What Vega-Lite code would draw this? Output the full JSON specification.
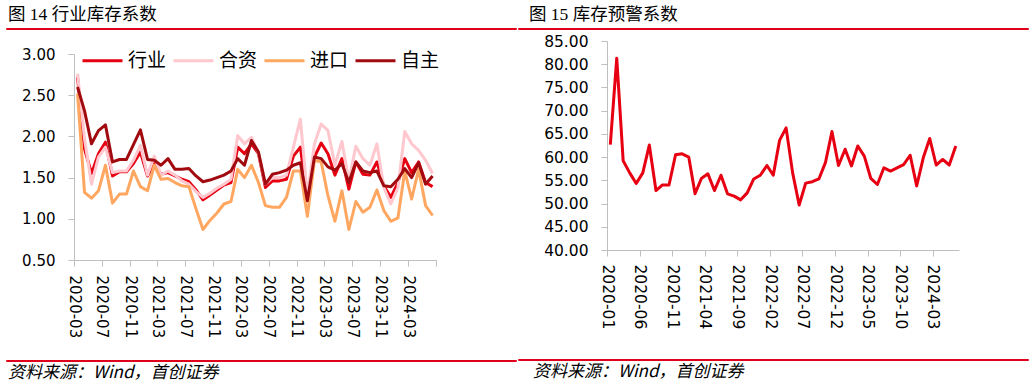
{
  "$schema": "https://vega.github.io/schema/vega-lite/v6.json",
  "padding": {"left": 5, "top": 5, "right": 5, "bottom": 0},
  "config": {
    "view": {"stroke": null},
    "axis": {"domainColor": "#BFBFBF", "tickColor": "#BFBFBF", "grid": false, "labelColor": "#000000", "labelFont": "DejaVu Sans", "tickSize": 6, "domainWidth": 1, "tickWidth": 1},
    "title": {"color": "#000000", "fontWeight": "normal"}
  },
  "spacing": 0,
  "hconcat": [
    {
      "spacing": 17,
      "vconcat": [
        {
          "width": 510, "height": 1,
          "view": {"stroke": "#E0001B", "strokeWidth": 1},
          "title": {"text": "图 14 行业库存系数", "anchor": "start", "offset": 5, "dx": 2, "fontSize": 17.5, "font": "Liberation Serif, Noto Sans CJK SC"},
          "data": {"values": []},
          "mark": "point"
        },
        {
          "spacing": 21,
          "vconcat": [
            {
              "spacing": 0,
              "hconcat": [
                {"width": 15, "height": 10, "data": {"values": []}, "mark": "point"},
                {
                  "width": 362, "height": 206,
                  "data": {"values": [
                    {"m": "2020-03", "行业": 2.72, "合资": 2.76, "进口": 2.52, "自主": 2.60},
                    {"m": "2020-04", "行业": 1.85, "合资": 1.97, "进口": 1.32, "自主": 2.31},
                    {"m": "2020-05", "行业": 1.55, "合资": 1.42, "进口": 1.25, "自主": 1.91},
                    {"m": "2020-06", "行业": 1.79, "合资": 1.75, "进口": 1.34, "自主": 2.07},
                    {"m": "2020-07", "行业": 1.93, "合资": 1.87, "进口": 1.65, "自主": 2.14},
                    {"m": "2020-08", "行业": 1.52, "合资": 1.56, "进口": 1.19, "自主": 1.69},
                    {"m": "2020-09", "行业": 1.57, "合资": 1.58, "进口": 1.30, "自主": 1.72},
                    {"m": "2020-10", "行业": 1.57, "合资": 1.58, "进口": 1.30, "自主": 1.72},
                    {"m": "2020-11", "行业": 1.67, "合资": 1.71, "进口": 1.58, "自主": 1.90},
                    {"m": "2020-12", "行业": 1.81, "合资": 1.89, "进口": 1.39, "自主": 2.08},
                    {"m": "2021-01", "行业": 1.52, "合资": 1.53, "进口": 1.34, "自主": 1.72},
                    {"m": "2021-02", "行业": 1.67, "合资": 1.76, "进口": 1.65, "自主": 1.71},
                    {"m": "2021-03", "行业": 1.54, "合资": 1.53, "进口": 1.48, "自主": 1.65},
                    {"m": "2021-04", "行业": 1.56, "合资": 1.58, "进口": 1.49, "自主": 1.73},
                    {"m": "2021-05", "行业": 1.52, "合资": 1.53, "进口": 1.44, "自主": 1.60},
                    {"m": "2021-06", "行业": 1.48, "合资": 1.46, "进口": 1.40, "自主": 1.60},
                    {"m": "2021-07", "行业": 1.45, "合资": 1.42, "进口": 1.39, "自主": 1.61},
                    {"m": "2021-08", "行业": 1.35, "合资": 1.33, "进口": 1.12, "自主": 1.52},
                    {"m": "2021-09", "行业": 1.23, "合资": 1.26, "进口": 0.87, "自主": 1.45},
                    {"m": "2021-10", "行业": 1.29, "合资": 1.31, "进口": 0.98, "自主": 1.47},
                    {"m": "2021-11", "行业": 1.35, "合资": 1.37, "进口": 1.07, "自主": 1.50},
                    {"m": "2021-12", "行业": 1.41, "合资": 1.42, "进口": 1.18, "自主": 1.53},
                    {"m": "2022-01", "行业": 1.44, "合资": 1.48, "进口": 1.21, "自主": 1.58},
                    {"m": "2022-02", "行业": 1.87, "合资": 2.01, "进口": 1.60, "自主": 1.73},
                    {"m": "2022-03", "行业": 1.79, "合资": 1.91, "进口": 1.50, "自主": 1.65},
                    {"m": "2022-04", "行业": 1.91, "合资": 1.99, "进口": 1.65, "自主": 1.95},
                    {"m": "2022-05", "行业": 1.79, "合资": 1.80, "进口": 1.44, "自主": 1.81},
                    {"m": "2022-06", "行业": 1.38, "合资": 1.42, "进口": 1.16, "自主": 1.42},
                    {"m": "2022-07", "行业": 1.46, "合资": 1.50, "进口": 1.14, "自主": 1.54},
                    {"m": "2022-08", "行业": 1.46, "合资": 1.50, "进口": 1.14, "自主": 1.56},
                    {"m": "2022-09", "行业": 1.48, "合资": 1.53, "进口": 1.26, "自主": 1.59},
                    {"m": "2022-10", "行业": 1.76, "合资": 1.87, "进口": 1.58, "自主": 1.65},
                    {"m": "2022-11", "行业": 1.87, "合资": 2.21, "进口": 1.58, "自主": 1.68},
                    {"m": "2022-12", "行业": 1.22, "合资": 1.28, "进口": 1.03, "自主": 1.22},
                    {"m": "2023-01", "行业": 1.75, "合资": 1.91, "进口": 1.71, "自主": 1.75},
                    {"m": "2023-02", "行业": 1.92, "合资": 2.15, "进口": 1.69, "自主": 1.73},
                    {"m": "2023-03", "行业": 1.79, "合资": 2.07, "进口": 1.28, "自主": 1.63},
                    {"m": "2023-04", "行业": 1.53, "合资": 1.65, "进口": 0.97, "自主": 1.59},
                    {"m": "2023-05", "行业": 1.73, "合资": 1.94, "进口": 1.34, "自主": 1.67},
                    {"m": "2023-06", "行业": 1.36, "合资": 1.46, "进口": 0.87, "自主": 1.44},
                    {"m": "2023-07", "行业": 1.69, "合资": 1.88, "进口": 1.21, "自主": 1.69},
                    {"m": "2023-08", "行业": 1.54, "合资": 1.73, "进口": 1.08, "自主": 1.58},
                    {"m": "2023-09", "行业": 1.53, "合资": 1.65, "进口": 1.14, "自主": 1.56},
                    {"m": "2023-10", "行业": 1.69, "合资": 1.91, "进口": 1.35, "自主": 1.58},
                    {"m": "2023-11", "行业": 1.40, "合资": 1.38, "进口": 1.10, "自主": 1.40},
                    {"m": "2023-12", "行业": 1.26, "合资": 1.18, "进口": 0.97, "自主": 1.39},
                    {"m": "2024-01", "行业": 1.44, "合资": 1.38, "进口": 1.01, "自主": 1.48},
                    {"m": "2024-02", "行业": 1.73, "合资": 2.06, "进口": 1.58, "自主": 1.61},
                    {"m": "2024-03", "行业": 1.56, "合资": 1.91, "进口": 1.24, "自主": 1.50},
                    {"m": "2024-04", "行业": 1.69, "合资": 1.83, "进口": 1.60, "自主": 1.68},
                    {"m": "2024-05", "行业": 1.44, "合资": 1.71, "进口": 1.16, "自主": 1.42},
                    {"m": "2024-06", "行业": 1.39, "合资": 1.55, "进口": 1.04, "自主": 1.52}
                  ]},
                  "transform": [{"fold": ["行业", "合资", "进口", "自主"], "as": ["series", "value"]}],
                  "mark": {"type": "line", "strokeWidth": 3, "strokeJoin": "round"},
                  "encoding": {
                    "x": {
                      "field": "m", "type": "temporal", "timeUnit": "utcyearmonth", "bandPosition": 0.5,
                      "scale": {"domain": [{"year": 2020, "month": 3, "date": 1, "utc": true}, {"year": 2024, "month": 7, "date": 1, "utc": true}]},
                      "axis": {
                        "title": null,
                        "values": [
                          {"year": 2020, "month": 3, "date": 1, "utc": true},
                          {"year": 2020, "month": 7, "date": 1, "utc": true},
                          {"year": 2020, "month": 11, "date": 1, "utc": true},
                          {"year": 2021, "month": 3, "date": 1, "utc": true},
                          {"year": 2021, "month": 7, "date": 1, "utc": true},
                          {"year": 2021, "month": 11, "date": 1, "utc": true},
                          {"year": 2022, "month": 3, "date": 1, "utc": true},
                          {"year": 2022, "month": 7, "date": 1, "utc": true},
                          {"year": 2022, "month": 11, "date": 1, "utc": true},
                          {"year": 2023, "month": 3, "date": 1, "utc": true},
                          {"year": 2023, "month": 7, "date": 1, "utc": true},
                          {"year": 2023, "month": 11, "date": 1, "utc": true},
                          {"year": 2024, "month": 3, "date": 1, "utc": true},
                          {"year": 2024, "month": 7, "date": 1, "utc": true}
                        ],
                        "labelExpr": "(utcyear(datum.value) == 2024 && utcmonth(datum.value) == 6) ? '' : utcFormat(datum.value, '%Y-%m')",
                        "labelAngle": 90, "labelAlign": "left", "labelBaseline": "middle",
                        "labelFontSize": 15, "labelPadding": 9, "labelFlush": false, "labelOverlap": false
                      }
                    },
                    "y": {
                      "field": "value", "type": "quantitative",
                      "scale": {"domain": [0.5, 3], "nice": false, "zero": false},
                      "axis": {"title": null, "values": [0.5, 1, 1.5, 2, 2.5, 3], "format": ".2f", "labelFontSize": 15, "labelPadding": 13}
                    },
                    "color": {
                      "field": "series", "type": "nominal",
                      "scale": {"domain": ["行业", "合资", "进口", "自主"], "range": ["#E60012", "#FFC7CE", "#FFA760", "#A10B10"]},
                      "legend": {"orient": "none", "legendX": 75, "legendY": 11, "direction": "horizontal", "title": null, "symbolType": "stroke", "symbolSize": 1600, "symbolStrokeWidth": 3, "labelFont": "Noto Sans CJK SC", "labelFontSize": 19, "labelColor": "#000000", "labelOffset": 4, "columnPadding": 0, "padding": 0}
                    }
                  }
                }
              ]
            },
            {
              "width": 510, "height": 1,
              "view": {"stroke": "#E0001B", "strokeWidth": 1},
              "title": {"text": "资料来源：Wind，首创证券", "orient": "bottom", "anchor": "start", "offset": 4, "dx": 2, "fontSize": 17, "fontStyle": "italic", "font": "Noto Sans CJK SC"},
              "data": {"values": []},
              "mark": "point"
            }
          ]
        }
      ]
    },
    {
      "spacing": 4,
      "vconcat": [
        {
          "width": 510, "height": 1,
          "view": {"stroke": "#E0001B", "strokeWidth": 1},
          "title": {"text": "图 15 库存预警系数", "anchor": "start", "offset": 5, "dx": 11, "fontSize": 17.5, "font": "Liberation Serif, Noto Sans CJK SC"},
          "data": {"values": []},
          "mark": "point"
        },
        {
          "spacing": 29,
          "vconcat": [
            {
              "spacing": 0,
              "hconcat": [
                {"width": 25, "height": 10, "data": {"values": []}, "mark": "point"},
                {
                  "width": 352, "height": 209,
                  "data": {"values": [
                    {"m": "2020-01", "v": 62.7}, {"m": "2020-02", "v": 81.3}, {"m": "2020-03", "v": 59.2}, {"m": "2020-04", "v": 56.6},
                    {"m": "2020-05", "v": 54.3}, {"m": "2020-06", "v": 56.6}, {"m": "2020-07", "v": 62.6}, {"m": "2020-08", "v": 52.8},
                    {"m": "2020-09", "v": 54.0}, {"m": "2020-10", "v": 54.0}, {"m": "2020-11", "v": 60.5}, {"m": "2020-12", "v": 60.7},
                    {"m": "2021-01", "v": 60.0}, {"m": "2021-02", "v": 52.1}, {"m": "2021-03", "v": 55.4}, {"m": "2021-04", "v": 56.4},
                    {"m": "2021-05", "v": 52.8}, {"m": "2021-06", "v": 56.1}, {"m": "2021-07", "v": 52.1}, {"m": "2021-08", "v": 51.6},
                    {"m": "2021-09", "v": 50.8}, {"m": "2021-10", "v": 52.3}, {"m": "2021-11", "v": 55.3}, {"m": "2021-12", "v": 56.1},
                    {"m": "2022-01", "v": 58.2}, {"m": "2022-02", "v": 56.1}, {"m": "2022-03", "v": 63.6}, {"m": "2022-04", "v": 66.3},
                    {"m": "2022-05", "v": 56.6}, {"m": "2022-06", "v": 49.7}, {"m": "2022-07", "v": 54.4}, {"m": "2022-08", "v": 54.7},
                    {"m": "2022-09", "v": 55.3}, {"m": "2022-10", "v": 58.8}, {"m": "2022-11", "v": 65.5}, {"m": "2022-12", "v": 58.2},
                    {"m": "2023-01", "v": 61.7}, {"m": "2023-02", "v": 58.1}, {"m": "2023-03", "v": 62.4}, {"m": "2023-04", "v": 60.2},
                    {"m": "2023-05", "v": 55.4}, {"m": "2023-06", "v": 54.1}, {"m": "2023-07", "v": 57.7}, {"m": "2023-08", "v": 57.0},
                    {"m": "2023-09", "v": 57.7}, {"m": "2023-10", "v": 58.4}, {"m": "2023-11", "v": 60.4}, {"m": "2023-12", "v": 53.8},
                    {"m": "2024-01", "v": 59.9}, {"m": "2024-02", "v": 64.0}, {"m": "2024-03", "v": 58.3}, {"m": "2024-04", "v": 59.5},
                    {"m": "2024-05", "v": 58.3}, {"m": "2024-06", "v": 62.4}
                  ]},
                  "mark": {"type": "line", "strokeWidth": 3, "strokeJoin": "round", "color": "#E60012"},
                  "encoding": {
                    "x": {
                      "field": "m", "type": "temporal", "timeUnit": "utcyearmonth", "bandPosition": 0.5,
                      "scale": {"domain": [{"year": 2020, "month": 1, "date": 1, "utc": true}, {"year": 2024, "month": 7, "date": 1, "utc": true}]},
                      "axis": {
                        "title": null,
                        "values": [
                          {"year": 2020, "month": 1, "date": 1, "utc": true},
                          {"year": 2020, "month": 6, "date": 1, "utc": true},
                          {"year": 2020, "month": 11, "date": 1, "utc": true},
                          {"year": 2021, "month": 4, "date": 1, "utc": true},
                          {"year": 2021, "month": 9, "date": 1, "utc": true},
                          {"year": 2022, "month": 2, "date": 1, "utc": true},
                          {"year": 2022, "month": 7, "date": 1, "utc": true},
                          {"year": 2022, "month": 12, "date": 1, "utc": true},
                          {"year": 2023, "month": 5, "date": 1, "utc": true},
                          {"year": 2023, "month": 10, "date": 1, "utc": true},
                          {"year": 2024, "month": 3, "date": 1, "utc": true}
                        ],
                        "labelExpr": "utcFormat(datum.value, '%Y-%m')",
                        "labelAngle": 90, "labelAlign": "left", "labelBaseline": "middle",
                        "labelFontSize": 15.5, "labelPadding": 8, "labelFlush": false, "labelOverlap": false
                      }
                    },
                    "y": {
                      "field": "v", "type": "quantitative",
                      "scale": {"domain": [40, 85], "nice": false, "zero": false},
                      "axis": {"title": null, "values": [40, 45, 50, 55, 60, 65, 70, 75, 80, 85], "format": ".2f", "labelFontSize": 15.5, "labelPadding": 13}
                    }
                  }
                }
              ]
            },
            {
              "width": 510, "height": 1,
              "view": {"stroke": "#E0001B", "strokeWidth": 1},
              "title": {"text": "资料来源：Wind，首创证券", "orient": "bottom", "anchor": "start", "offset": 4, "dx": 15, "fontSize": 17, "fontStyle": "italic", "font": "Noto Sans CJK SC"},
              "data": {"values": []},
              "mark": "point"
            }
          ]
        }
      ]
    }
  ]
}
